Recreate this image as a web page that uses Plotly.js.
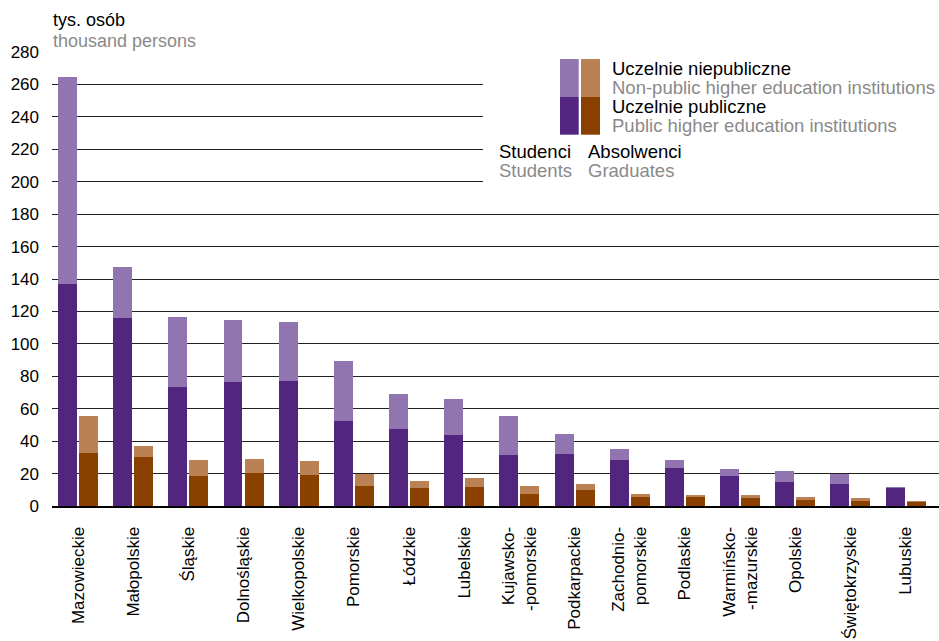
<!DOCTYPE html>
<html>
<head>
<meta charset="utf-8">
<script src="https://cdn.plot.ly/plotly-3.0.1.min.js"></script>
<style>html,body{margin:0;padding:0;background:#fff;}#chart{width:939px;height:641px;}</style>
</head>
<body>
<div id="chart"></div>
<script>
// ---- data (thousand persons) ----
const categories = ['Mazowieckie','Małopolskie','Śląskie','Dolnośląskie','Wielkopolskie','Pomorskie','Łódzkie','Lubelskie','Kujawsko-<br>-pomorskie','Podkarpackie','Zachodnio-<br>pomorskie','Podlaskie','Warmińsko-<br>-mazurskie','Opolskie','Świętokrzyskie','Lubuskie'];
const studentsPublic    = [137.1,115.7,73.6,76.7,77.3,52.6,47.7,44.0,31.6,32.3,28.5,23.6,18.8,15.0,13.8,11.4];
const studentsNonPublic = [127.7,31.9,42.7,38.2,36.4,37.0,21.6,22.2,24.1,12.3,6.8,4.9,4.2,6.8,6.2,0.6];
const gradPublic        = [32.9,30.4,18.7,20.6,19.3,12.6,11.4,11.9,7.6,10.1,5.8,5.8,5.2,3.9,3.3,2.7];
const gradNonPublic     = [22.8,6.8,9.9,8.6,8.7,7.4,4.3,5.6,5.0,3.7,1.8,1.1,1.7,1.9,1.9,0.6];
const yTicks = [0,20,40,60,80,100,120,140,160,180,200,220,240,260,280];

// ---- styles ----
const C = {sPub:'#52267f', sNon:'#9175b0', gPub:'#8a4100', gNon:'#ba8254', gray:'#8a8a8a'};
const FONT = 'Liberation Sans, Arial, sans-serif';
const W = 939, H = 641, ML = 52, MR = 0, MT = 52, MB = 135;
const PW = W - ML - MR, PH = H - MT - MB;
const px = x => (x - ML) / PW;
const py = y => 1 - (y - MT) / PH;

const bw = 0.344;
function bar(name, y, base, color, offset) {
  return {type:'bar', name, x:categories, y, base, offset, width:bw,
          marker:{color, line:{width:0}}, hoverinfo:'y', showlegend:false};
}
const zeros = categories.map(() => 0);
const traces = [
  bar('Studenci – publiczne', studentsPublic, zeros, C.sPub, -0.3625),
  bar('Studenci – niepubliczne', studentsNonPublic, studentsPublic, C.sNon, -0.3625),
  bar('Absolwenci – publiczne', gradPublic, zeros, C.gPub, 0.0185),
  bar('Absolwenci – niepubliczne', gradNonPublic, gradPublic, C.gNon, 0.0185)
];

function ann(text, x, y, color, size) {
  return {text, xref:'paper', yref:'paper', x:px(x), y:py(y), xanchor:'left', yanchor:'middle',
          showarrow:false, font:{family:FONT, size:size || 18.5, color}, borderpad:0};
}
function rect(x0, y0, x1, y1, color) {
  return {type:'rect', xref:'paper', yref:'paper', x0:px(x0), x1:px(x1), y0:py(y1), y1:py(y0),
          fillcolor:color, line:{width:0}, layer:'above'};
}

const layout = {
  width:W, height:H, margin:{l:ML, r:MR, t:MT, b:MB, pad:0},
  paper_bgcolor:'#fff', plot_bgcolor:'#fff',
  barmode:'overlay', bargap:0,
  font:{family:FONT, size:17, color:'#000'},
  xaxis:{type:'category', range:[-0.471, 15.606], tickangle:-90, showgrid:false,
         ticks:'', ticklabelstandoff:12, showline:true, linecolor:'#000', linewidth:2,
         tickfont:{family:FONT, size:17, color:'#000'}, fixedrange:true},
  yaxis:{range:[0,280], tickvals:yTicks, ticktext:yTicks.map(String), showgrid:true,
         gridcolor:'#222', gridwidth:1, zeroline:false, showline:false, ticks:'',
         ticklabelstandoff:12, tickfont:{family:FONT, size:17, color:'#000'}, fixedrange:true},
  shapes:[
    rect(483, 40, 939, 196, '#fff'),
    rect(560, 59, 578.7, 97, C.sNon),
    rect(560, 97, 578.7, 134.7, C.sPub),
    rect(581, 59, 600, 97, C.gNon),
    rect(581, 97, 600, 134.7, C.gPub)
  ],
  annotations:[
    ann('tys. osób', 52, 20, '#000', 18),
    ann('thousand persons', 52, 41, C.gray, 18),
    ann('Uczelnie niepubliczne', 611, 68, '#000'),
    ann('Non-public higher education institutions', 611, 87, C.gray),
    ann('Uczelnie publiczne', 611, 107, '#000'),
    ann('Public higher education institutions', 611, 126, C.gray),
    ann('Studenci', 498, 152, '#000'),
    ann('Students', 498, 171, C.gray),
    ann('Absolwenci', 587, 152, '#000'),
    ann('Graduates', 587, 171, C.gray)
  ]
};

Plotly.newPlot('chart', traces, layout, {displayModeBar:false, staticPlot:true});
</script>
</body>
</html>
